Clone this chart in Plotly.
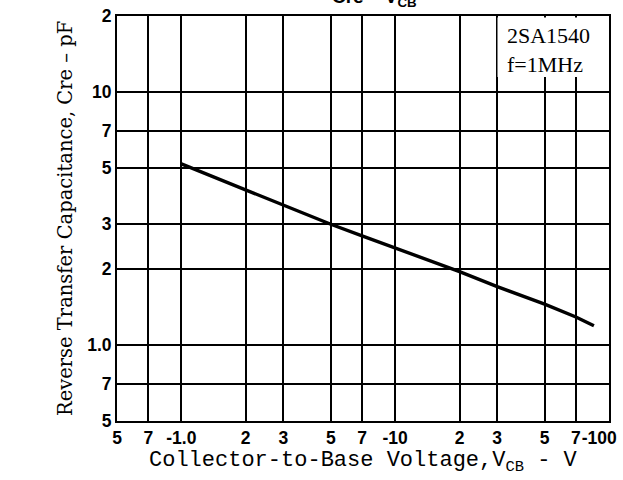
import plotly.graph_objects as go

# Data (|V_CB| in volts, Cre in pF)
vcb = [1.0, 2.0, 3.0, 5.0, 7.0, 10.0, 20.0, 30.0, 50.0, 70.0, 85.0]
cre = [5.2, 4.1, 3.57, 3.0, 2.7, 2.42, 1.95, 1.70, 1.45, 1.29, 1.19]

x_tickvals = [0.5, 0.7, 1, 2, 3, 5, 7, 10, 20, 30, 50, 70, 100]
x_ticktext = ["5", "7", "-1.0", "2", "3", "5", "7", "-10", "2", "3", "5", "7",
              "-100\u00a0\u00a0\u00a0\u00a0"]
y_tickvals = [0.5, 0.7, 1, 2, 3, 5, 7, 10, 20]
y_ticktext = ["5", "7", "1.0", "2", "3", "5", "7", "10", "2"]

L, R, T, B = 117, 14, 16, 59
W, H = 623, 480
pw, ph = W - L - R, H - T - B

def px(xp):
    return (xp - L) / pw

def py(yp):
    return (H - B - yp) / ph

fig = go.Figure()
fig.add_trace(go.Scatter(x=vcb, y=cre, mode="lines",
                         line=dict(color="black", width=3.4),
                         showlegend=False, hoverinfo="skip"))

tickfont = dict(family="Liberation Sans", size=17.5, color="black", weight="bold")
axis_common = dict(type="log", showgrid=True, gridcolor="black", gridwidth=1.5,
                   showline=True, linecolor="black", linewidth=2, mirror=True,
                   ticks="", tickfont=tickfont, zeroline=False, tickmode="array",
                   ticklabeloverflow="allow", tickangle=0)

fig.update_layout(
    width=W, height=H,
    margin=dict(l=L, r=R, t=T, b=B, autoexpand=False),
    paper_bgcolor="white", plot_bgcolor="white",
    xaxis=dict(range=[-0.30103, 2.0], tickvals=x_tickvals, ticktext=x_ticktext,
               ticklabelstandoff=0, **axis_common),
    yaxis=dict(range=[-0.30103, 1.30103], tickvals=y_tickvals, ticktext=y_ticktext,
               ticklabelstandoff=0, **axis_common),
)

# white box behind the device label
fig.add_shape(type="rect", xref="paper", yref="paper",
              x0=px(497.5), x1=px(607.5), y0=py(77), y1=py(17.5),
              fillcolor="white", line=dict(width=0), layer="above")

fig.add_annotation(xref="paper", yref="paper", x=px(505), y=py(21),
                   xanchor="left", yanchor="top", align="left", showarrow=False,
                   text="2SA1540<br>f=1MHz",
                   font=dict(family="Liberation Serif", size=22, color="black"))

# chart title (cut off at the top in the reference)
fig.add_annotation(xref="paper", yref="paper", x=px(374), y=py(-2),
                   xanchor="center", yanchor="middle", showarrow=False,
                   text="Cre – V<sub>CB</sub>",
                   font=dict(family="Liberation Sans", size=19, color="black", weight="bold"))

# axis titles
fig.add_annotation(xref="paper", yref="paper", x=0.5, y=py(462),
                   xanchor="center", yanchor="middle", showarrow=False,
                   text="Collector-to-Base Voltage,V<sub>CB</sub> - V",
                   font=dict(family="Liberation Mono", size=22, color="black"))
fig.add_annotation(xref="paper", yref="paper", x=px(65), y=py(219),
                   xanchor="center", yanchor="middle", showarrow=False, textangle=-90,
                   text="Reverse Transfer Capacitance, Cre – pF",
                   font=dict(family="DejaVu Serif", size=19.5, color="black"))

fig.write_html("out.html", config={"displayModeBar": False},
               post_script="document.body.style.margin='0';document.body.style.padding='0';")
